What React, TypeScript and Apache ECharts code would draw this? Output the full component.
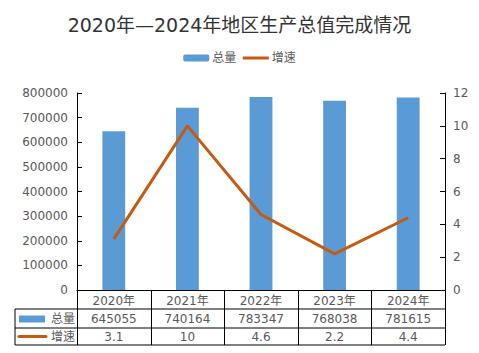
import React, { useEffect, useRef } from "react";
import * as echarts from "echarts";

const categories = ["2020年", "2021年", "2022年", "2023年", "2024年"];
const totalValues = [645055, 740164, 783347, 768038, 781615];
const growthValues = [3.1, 10, 4.6, 2.2, 4.4];
const seriesNames = ["总量", "增速"];

const FONT = "'DejaVu Sans', 'Noto Sans CJK SC', sans-serif";
const BLUE = "#5B9BD5";
const ORANGE = "#C55A11";
const TXT = "#595959";

export default function App() {
  const ref = useRef<HTMLDivElement>(null);
  useEffect(() => {
    if (!ref.current) return;
    const chart = echarts.init(ref.current, null, { renderer: "svg", width: 479, height: 353 });
    const W = 479, H = 353;
    const gl = 77, gr = 34, gt = 93, gb = 63;
    chart.setOption({
      animation: false,
      textStyle: { fontFamily: FONT },
      title: {
        text: "2020年—2024年地区生产总值完成情况",
        left: "center",
        top: 15,
        padding: 0,
        textStyle: { fontSize: 19, fontWeight: "normal", color: "#333333", fontFamily: FONT },
      },
      legend: {
        top: 47,
        left: "center",
        itemWidth: 26,
        itemHeight: 7,
        itemGap: 5,
        textStyle: { fontSize: 12, color: TXT, fontFamily: FONT, padding: [0, 0, 0, -2] },
        data: [
          { name: seriesNames[0] },
          { name: seriesNames[1], itemStyle: { opacity: 0 }, lineStyle: { width: 3, color: ORANGE } },
        ],
      },
      grid: { left: gl, right: gr, top: gt, bottom: gb, containLabel: false },
      xAxis: {
        type: "category",
        data: categories,
        axisLine: { lineStyle: { color: "#000", width: 1 } },
        axisTick: { show: false },
        axisLabel: { color: TXT, fontSize: 12, margin: 5, fontFamily: FONT },
      },
      yAxis: [
        {
          type: "value",
          min: 0,
          max: 800000,
          interval: 100000,
          splitLine: { show: false },
          axisLine: { show: true, lineStyle: { color: "#000" } },
          axisTick: { show: true, inside: true, length: 5, lineStyle: { color: "#000" } },
          axisLabel: { color: TXT, fontSize: 12, margin: 9, fontFamily: FONT, formatter: (v: number) => String(v) },
        },
        {
          type: "value",
          min: 0,
          max: 12,
          interval: 2,
          splitLine: { show: false },
          axisLine: { show: true, lineStyle: { color: "#000" } },
          axisTick: { show: true, inside: true, length: 5, lineStyle: { color: "#000" } },
          axisLabel: { color: TXT, fontSize: 12, margin: 8, fontFamily: FONT },
        },
      ],
      series: [
        {
          name: seriesNames[0],
          type: "bar",
          data: totalValues,
          barWidth: "31%",
          itemStyle: { color: BLUE },
        },
        {
          name: seriesNames[1],
          type: "line",
          yAxisIndex: 1,
          data: growthValues,
          symbol: "none",
          lineStyle: { color: ORANGE, width: 3 },
          itemStyle: { color: ORANGE },
        },
      ],
    });

    // Data table under the plot
    const xL = gl, xR = W - gr;
    const yAxisY = H - gb;
    const rowH = [19, 19, 17];
    const y1 = yAxisY + rowH[0];
    const y2 = y1 + rowH[1];
    const y3 = y2 + rowH[2];
    const tableLeft = 15;
    const catW = (xR - xL) / categories.length;
    const lineStyle = { stroke: "#000", lineWidth: 1 };
    const els: any[] = [];
    [y1, y2, y3].forEach((y) => {
      els.push({ type: "line", shape: { x1: tableLeft, y1: y, x2: xR, y2: y }, style: lineStyle, silent: true });
    });
    els.push({ type: "line", shape: { x1: tableLeft, y1: y1, x2: tableLeft, y2: y3 }, style: lineStyle });
    for (let k = 0; k <= categories.length; k++) {
      const x = Math.round(xL + k * catW) + 0.5;
      els.push({ type: "line", shape: { x1: x, y1: yAxisY, x2: x, y2: y3 }, style: lineStyle });
    }
    const rows = [totalValues, growthValues];
    const rowsY = [(y1 + y2) / 2, (y2 + y3) / 2];
    rows.forEach((vals, r) => {
      vals.forEach((v, i) => {
        const cx = chart.convertToPixel({ xAxisIndex: 0 }, i) as number;
        els.push({
          type: "text",
          x: cx,
          y: rowsY[r],
          style: { text: String(v), fill: TXT, font: `12px ${FONT}`, align: "center", verticalAlign: "middle" },
        });
      });
      els.push({
        type: "text",
        x: xL - 2,
        y: rowsY[r],
        style: { text: seriesNames[r], fill: TXT, font: `12px ${FONT}`, align: "right", verticalAlign: "middle" },
      });
    });
    els.push({ type: "rect", shape: { x: 19, y: rowsY[0] - 3, width: 26, height: 7 }, style: { fill: BLUE } });
    els.push({
      type: "line",
      shape: { x1: 19, y1: rowsY[1], x2: 46, y2: rowsY[1] },
      style: { stroke: ORANGE, lineWidth: 3, lineCap: "round" },
    });
    chart.setOption({ graphic: { elements: els } });

    return () => chart.dispose();
  }, []);
  return <div ref={ref} style={{ width: 479, height: 353, position: "absolute", left: 0, top: 0 }} />;
}
